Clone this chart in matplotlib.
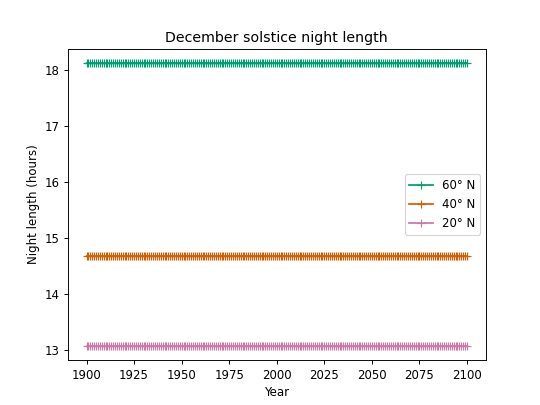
import matplotlib
matplotlib.use("Agg")
import matplotlib.pyplot as plt

years = list(range(1900, 2101))
night_60n = [18.12] * len(years)
night_40n = [14.67] * len(years)
night_20n = [13.07] * len(years)
labels = ["60° N", "40° N", "20° N"]
colors = ["#009E73", "#D55E00", "#CC79A7"]

fig, ax = plt.subplots(figsize=(6.4, 4.8), dpi=540 / 6.4)
for vals, lab, col in zip([night_60n, night_40n, night_20n], labels, colors):
    ax.plot(years, vals, marker="+", color=col, label=lab)
ax.set_title("December solstice night length")
ax.set_xlabel("Year")
ax.set_ylabel("Night length (hours)")
ax.legend(loc="center right")
fig.savefig("out.png")
